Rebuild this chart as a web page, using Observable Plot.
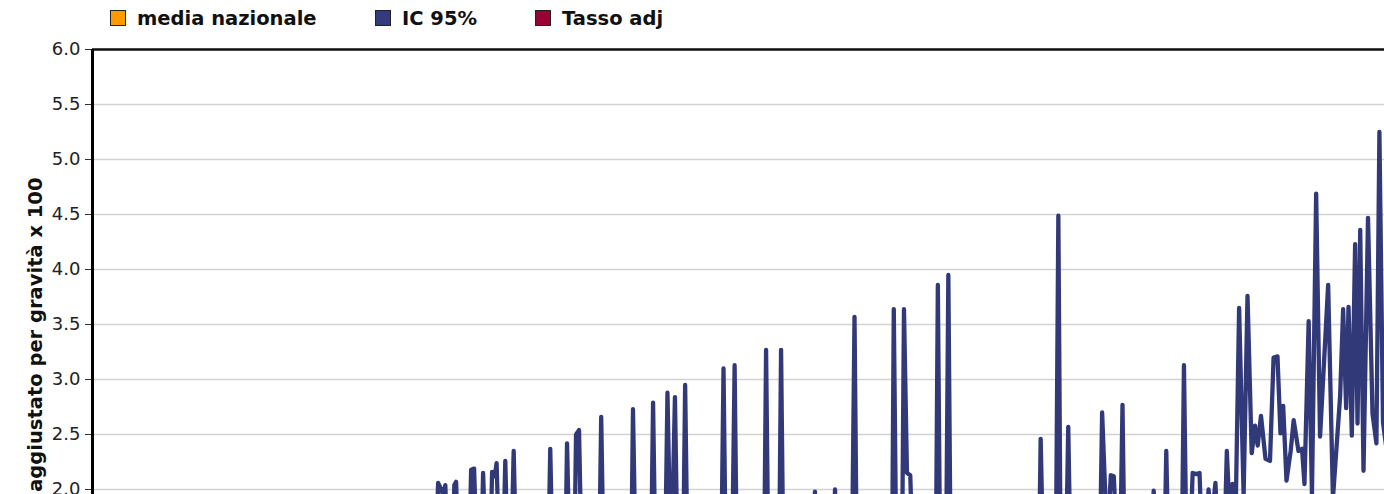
<!DOCTYPE html>
<html><head><meta charset="utf-8">
<script src="https://cdn.jsdelivr.net/npm/d3@7"></script>
<script src="https://cdn.jsdelivr.net/npm/@observablehq/plot@0.6"></script>
<style>
html,body{margin:0;padding:0;background:#fff;overflow:hidden;width:1384px;height:494px}
#legend{position:relative;height:38px;font:bold 19.5px "DejaVu Sans",sans-serif;color:#111}
#legend .item{position:absolute;top:6px;height:24px;display:flex;align-items:center;white-space:nowrap}
#legend .sw{width:14px;height:14px;border:1px solid #222;margin-right:11px;flex:none}
</style></head><body>
<div id="legend"></div>
<div id="chart"></div>
<script>
// ---- data ----
const legendLabels = ["media nazionale", "IC 95%", "Tasso adj"];
const legendColors = ["#ff9900", "#343b7d", "#990033"];
const yTitle = "aggiustato per gravità x 100";
const yTicks = [0, 0.5, 1, 1.5, 2, 2.5, 3, 3.5, 4, 4.5, 5, 5.5, 6];

// IC 95% line: position of each vertex (hospital rank) and value
const pos = [
  0, 114.5, 115.3, 116.3, 117.0, 117.7, 118.5,
  120.2, 120.7, 121.3, 122.0,
  125.7, 126.3, 127.3, 128.2,
  129.7, 130.3, 131.2,
  132.7, 133.3, 134.2, 134.8, 135.7,
  137.0, 137.7, 138.5,
  139.7, 140.5, 141.3,
  152.0, 152.7, 153.5,
  157.7, 158.3, 159.2,
  160.7, 161.3, 162.3, 163.2,
  169.0, 169.7, 170.5,
  179.7, 180.3, 181.2,
  186.3, 187.0, 187.8,
  191.0, 191.8, 193.0, 194.3, 195.2,
  197.0, 197.7, 198.5,
  209.7, 210.5, 211.3,
  213.3, 214.2, 215.0,
  224.0, 224.7, 225.5,
  229.0, 229.7, 230.5,
  240.3, 241.0, 241.8,
  247.0, 247.7, 248.5,
  253.3, 254.2, 255.0,
  266.7, 267.3, 268.2,
  270.0, 270.7, 271.7, 272.8, 273.7,
  281.3, 282.0, 282.8,
  284.7, 285.5, 286.3,
  315.7, 316.3, 317.2,
  321.3, 322.2, 323.0,
  324.7, 325.5, 326.3,
  336.0, 336.8, 338.5, 339.7, 340.7, 341.7, 342.8, 343.6, 344.3,
  353.3, 354.0, 354.8,
  357.5, 358.2, 359.0,
  363.3, 364.1, 365.0, 366.3, 367.0, 368.2, 369.3, 370.0,
  371.3, 372.3, 373.3, 374.6, 375.5,
  377.7, 378.4, 379.3, 380.3, 381.3, 382.5, 384.0, 385.3, 386.7, 387.8,
  388.7, 389.8, 391.3, 392.8, 394.0, 395.3, 396.3, 397.2, 398.3, 399.7,
  400.7, 402.3, 403.5, 404.3, 405.7, 406.8, 408.2, 409.5, 412.2, 413.8,
  416.2, 417.2, 418.2, 419.0, 420.1, 421.2, 422.0, 422.9, 424.0, 425.5,
  427.0, 428.3, 429.3, 430.5, 432.0
];
const ic = [
  1.1, 1.4, 2.06, 2.00, 1.95, 2.04, 1.4,
  1.4, 2.04, 2.07, 1.4,
  1.4, 2.18, 2.19, 1.4,
  1.4, 2.15, 1.4,
  1.4, 2.16, 2.12, 2.24, 1.4,
  1.4, 2.26, 1.4,
  1.4, 2.35, 1.4,
  1.3, 2.37, 1.3,
  1.3, 2.42, 1.3,
  1.3, 2.50, 2.54, 1.3,
  1.3, 2.66, 1.3,
  1.3, 2.73, 1.3,
  1.3, 2.79, 1.3,
  1.3, 2.88, 1.2, 2.84, 1.3,
  1.3, 2.95, 1.3,
  1.2, 3.10, 1.2,
  1.2, 3.13, 1.2,
  1.2, 3.27, 1.2,
  1.2, 3.27, 1.2,
  1.4, 1.98, 1.4,
  1.4, 2.00, 1.4,
  1.2, 3.57, 1.2,
  1.2, 3.64, 1.2,
  1.2, 3.64, 2.15, 2.13, 1.3,
  1.2, 3.86, 1.2,
  1.2, 3.95, 1.2,
  1.3, 2.46, 1.3,
  1.1, 4.49, 1.2,
  1.3, 2.57, 1.3,
  1.3, 2.70, 1.5, 2.13, 2.12, 1.5, 1.4, 2.77, 1.3,
  1.4, 1.99, 1.4,
  1.3, 2.35, 1.3,
  1.2, 3.13, 1.3, 1.6, 2.15, 2.14, 2.15, 1.6,
  1.4, 2.00, 1.7, 2.06, 1.5,
  1.6, 2.35, 1.8, 2.05, 1.7, 3.65, 1.95, 3.76, 2.33, 2.58,
  2.40, 2.67, 2.28, 2.26, 3.20, 3.21, 2.51, 2.76, 2.08, 2.35,
  2.63, 2.35, 2.37, 2.05, 3.53, 1.95, 4.69, 2.48, 3.86, 1.92,
  2.85, 3.64, 2.74, 3.66, 2.49, 4.23, 2.60, 4.36, 2.17, 4.47,
  2.69, 2.42, 5.25, 2.61, 2.30
];

// ---- legend ----
const legendLeft = [110, 375, 535];
const legend = document.getElementById("legend");
legendLabels.forEach((lab, i) => {
  const it = document.createElement("div");
  it.className = "item";
  it.style.left = legendLeft[i] + "px";
  const sw = document.createElement("span");
  sw.className = "sw";
  sw.style.background = legendColors[i];
  it.appendChild(sw);
  it.appendChild(document.createTextNode(lab));
  legend.appendChild(it);
});

// ---- chart ----
const data = pos.map((p, i) => ({pos: p, val: ic[i]}));
const chart = Plot.plot({
  width: 1384,
  height: 701,
  marginTop: 11,
  marginLeft: 92,
  marginRight: 0,
  marginBottom: 30,
  style: {fontFamily: '"DejaVu Sans", sans-serif', fontSize: "18px", color: "#222", background: "#fff"},
  x: {domain: [0, 431], axis: null},
  y: {domain: [0, 6], axis: null},
  marks: [
    Plot.gridY(yTicks, {stroke: "#d2d2d2", strokeOpacity: 1, strokeWidth: 1.6}),
    Plot.axisY(yTicks, {tickFormat: d => d.toFixed(1), tickSize: 7, tickPadding: 5, fontSize: 18, label: null, stroke: "#333", fill: "#222"}),
    Plot.line(data, {x: "pos", y: "val", stroke: "#323979", strokeWidth: 4.3, strokeLinejoin: "round", strokeLinecap: "round", clip: true}),
    Plot.ruleY([6], {stroke: "#111", strokeWidth: 2.5}),
    Plot.ruleX([0], {stroke: "#000", strokeWidth: 3}),
    Plot.text([yTitle], {text: d => d, frameAnchor: "top-left", dx: -64, dy: 128, rotate: -90, textAnchor: "end", fontWeight: "bold", fontSize: 19.5, fill: "#111"})
  ]
});
document.getElementById("chart").appendChild(chart);
</script>
</body></html>
